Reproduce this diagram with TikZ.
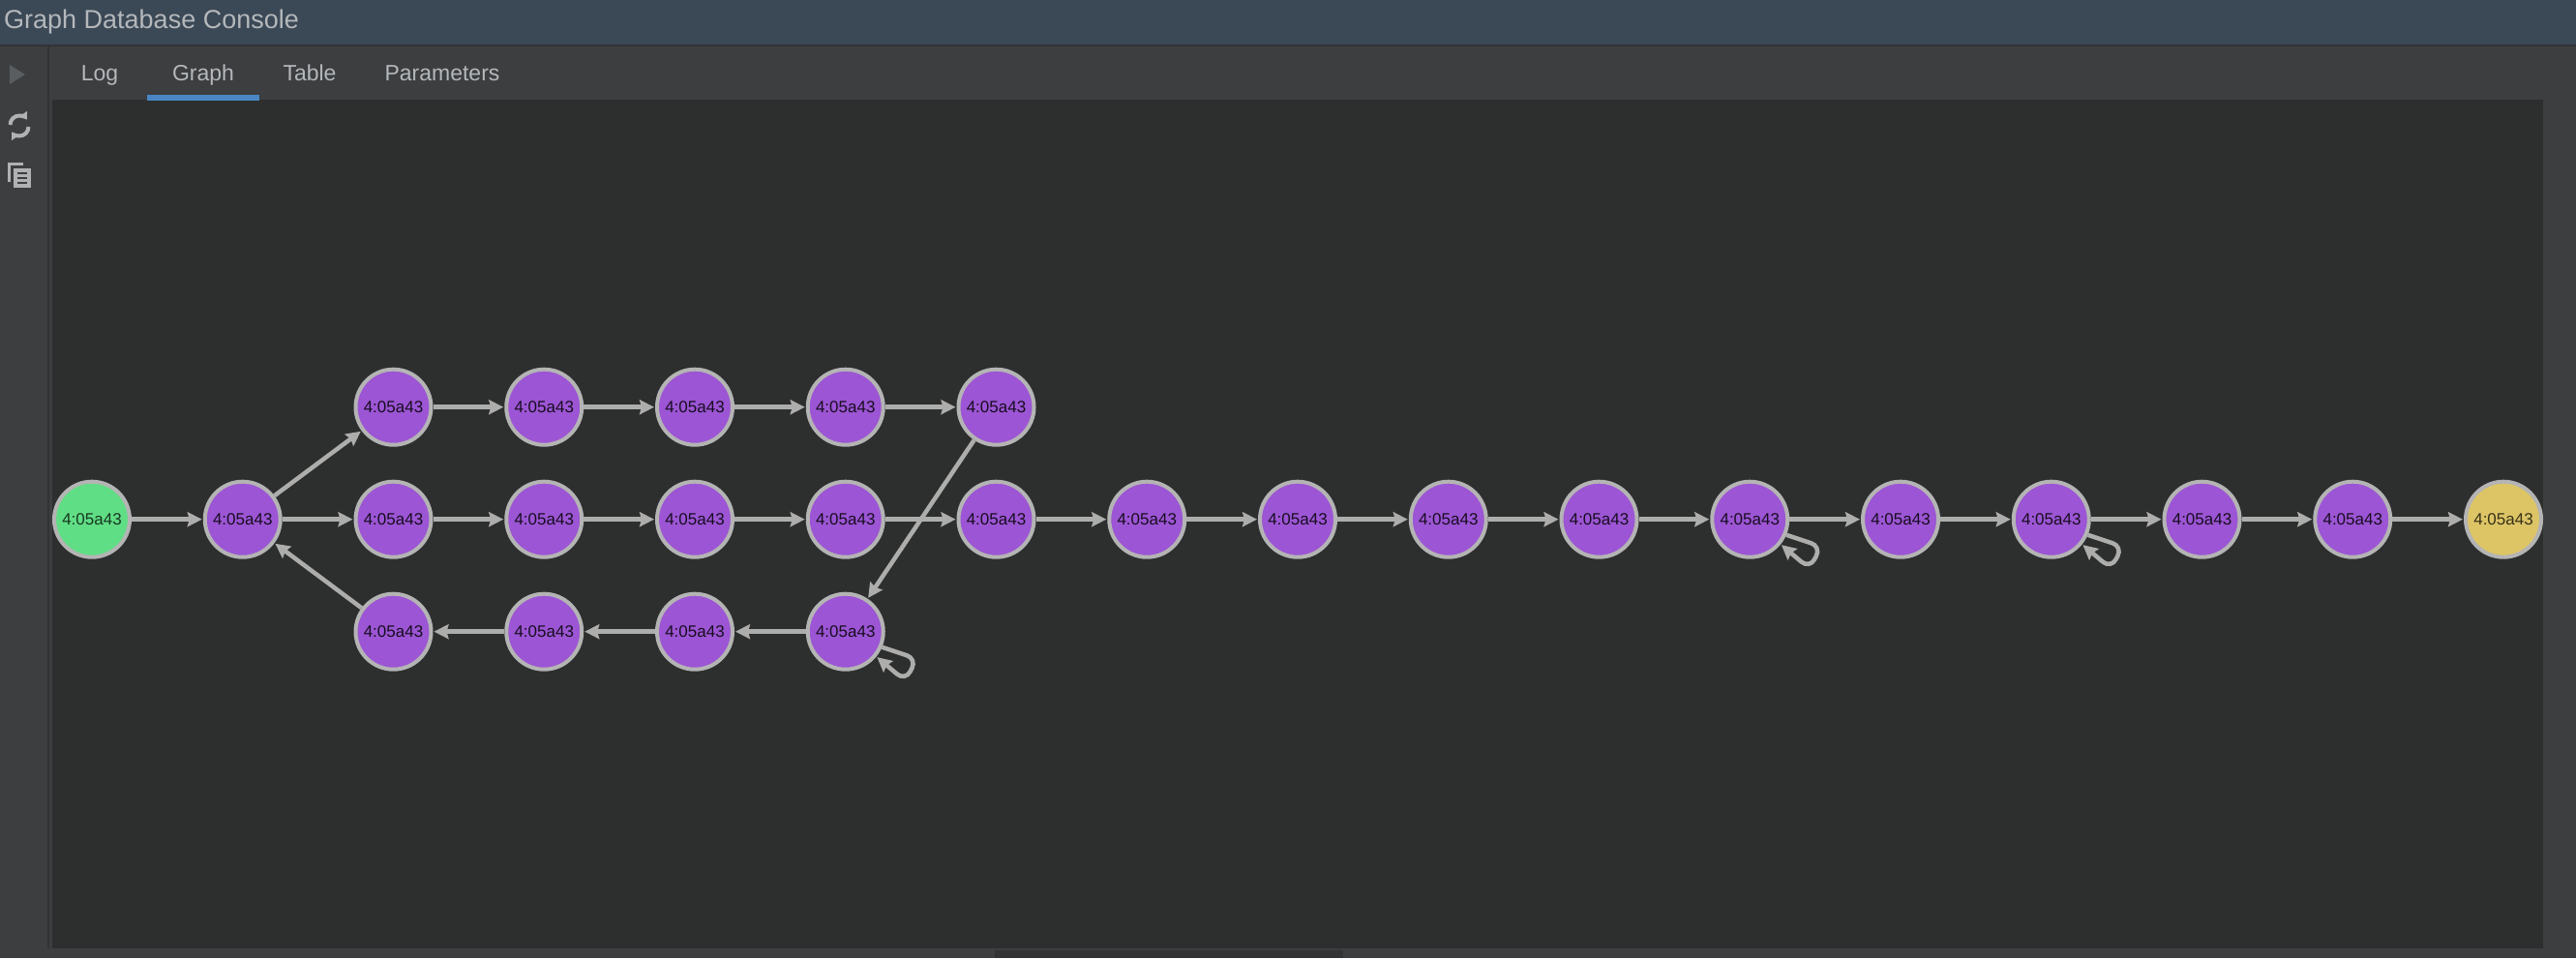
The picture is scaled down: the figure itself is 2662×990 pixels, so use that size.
\documentclass[tikz,border=0pt]{standalone}
\usepackage{fontspec}
\setmainfont{Liberation Sans}
\usetikzlibrary{positioning,arrows.meta}
\definecolor{titlebar}{HTML}{3B4856}
\definecolor{panel}{HTML}{3C3E40}
\definecolor{canvas}{HTML}{2D2F2E}
\definecolor{rule}{HTML}{323334}
\definecolor{tabtext}{HTML}{B4B8BB}
\definecolor{tabblue}{HTML}{4A86C5}
\definecolor{iconlit}{HTML}{AFB1B3}
\definecolor{icondim}{HTML}{5A5D5F}
\definecolor{ringgrey}{HTML}{B4B4B4}
\definecolor{edgegrey}{HTML}{ADAEAC}
\definecolor{purplefill}{HTML}{9C55D4}
\definecolor{greenfill}{HTML}{60DE85}
\definecolor{yellowfill}{HTML}{DDC566}
\tikzset{
vertex/.style={circle, draw=ringgrey, line width=4pt, fill=purplefill, minimum size=78pt, inner sep=0pt, text=purplefill!15!black, font=\fontsize{17}{17}\selectfont},
start/.style={vertex, fill=greenfill, text=greenfill!25!black},
finish/.style={vertex, fill=yellowfill, text=yellowfill!25!black},
edge/.style={draw=edgegrey, line width=4.5pt, shorten >=1pt, -{Stealth[length=15pt,width=15pt,inset=2pt]}},
selfloop/.style={edge, rounded corners=11pt},
tab/.style={text=tabtext, font=\fontsize{23}{23}\selectfont, anchor=base},
}
\begin{document}
\begin{tikzpicture}[x=1pt,y=-1pt,on grid,node distance=116pt and 155.75pt]
\useasboundingbox (0,0) rectangle (2662,990);
\fill[panel] (0,0) rectangle (2662,990);
\fill[titlebar] (0,0) rectangle (2662,46);
\fill[rule] (0,46) rectangle (2662,48);
\fill[rule] (49,48) rectangle (51,980);
\fill[canvas] (54,103) rectangle (2628,980);
\fill[rule] (1028,982) rectangle (1388,990);
\fill[tabblue] (152,98) rectangle (268,104);
% header
\node[text=tabtext, font=\fontsize{27}{27}\selectfont, anchor=base west, inner sep=0pt] (title) at (4,30) {Graph Database Console};
\node[tab] (log) at (103,84) {Log};
\node[tab] (graph) at (210,84) {Graph};
\node[tab] (table) at (320,84) {Table};
\node[tab] (params) at (457,84) {Parameters};
% toolbar
\fill[icondim] (10,67) -- (26,77) -- (10,87) -- cycle;
\draw[iconlit, line width=4pt, -{Triangle[length=7pt,width=10pt]}] (10.5,129) arc[start angle=180, end angle=35, radius=9.5pt];
\draw[iconlit, line width=4pt, -{Triangle[length=7pt,width=10pt]}] (29.5,131) arc[start angle=0, end angle=-145, radius=9.5pt];
\draw[iconlit, line width=2.5pt] (9.5,188) -- (9.5,169.5) -- (24,169.5);
\fill[iconlit] (14,174) rectangle (32,194);
\draw[panel, line width=2pt] (18,179) -- (28,179) (18,184) -- (28,184) (18,189) -- (28,189);
% middle row
\node[start] (a0) at (95,536.7) {4:05a43};
\node[vertex, right=of a0] (a1) {4:05a43};
\node[vertex, right=of a1] (a2) {4:05a43};
\node[vertex, right=of a2] (a3) {4:05a43};
\node[vertex, right=of a3] (a4) {4:05a43};
\node[vertex, right=of a4] (a5) {4:05a43};
\node[vertex, right=of a5] (a6) {4:05a43};
\node[vertex, right=of a6] (a7) {4:05a43};
\node[vertex, right=of a7] (a8) {4:05a43};
\node[vertex, right=of a8] (a9) {4:05a43};
\node[vertex, right=of a9] (a10) {4:05a43};
\node[vertex, right=of a10] (a11) {4:05a43};
\node[vertex, right=of a11] (a12) {4:05a43};
\node[vertex, right=of a12] (a13) {4:05a43};
\node[vertex, right=of a13] (a14) {4:05a43};
\node[vertex, right=of a14] (a15) {4:05a43};
\node[finish, right=of a15] (a16) {4:05a43};
% top row
\node[vertex, above=of a2] (t2) {4:05a43};
\node[vertex, right=of t2] (t3) {4:05a43};
\node[vertex, right=of t3] (t4) {4:05a43};
\node[vertex, right=of t4] (t5) {4:05a43};
\node[vertex, right=of t5] (t6) {4:05a43};
% bottom row
\node[vertex, below=of a2] (b2) {4:05a43};
\node[vertex, right=of b2] (b3) {4:05a43};
\node[vertex, right=of b3] (b4) {4:05a43};
\node[vertex, right=of b4] (b5) {4:05a43};
% edges
\foreach \from/\to in {a0/a1,a1/a2,a2/a3,a3/a4,a4/a5,a5/a6,a6/a7,a7/a8,a8/a9,a9/a10,a10/a11,a11/a12,a12/a13,a13/a14,a14/a15,a15/a16,a1/t2,t2/t3,t3/t4,t4/t5,t5/t6,t6/b5,b5/b4,b4/b3,b3/b2,b2/a1}
\draw[edge] (\from) -- (\to);
\draw[selfloop] (b5.-23) -- +(36,12) -- +(24,35) -- (b5.-39);
\draw[selfloop] (a11.-23) -- +(36,12) -- +(24,35) -- (a11.-39);
\draw[selfloop] (a13.-23) -- +(36,12) -- +(24,35) -- (a13.-39);
\end{tikzpicture}
\end{document}
